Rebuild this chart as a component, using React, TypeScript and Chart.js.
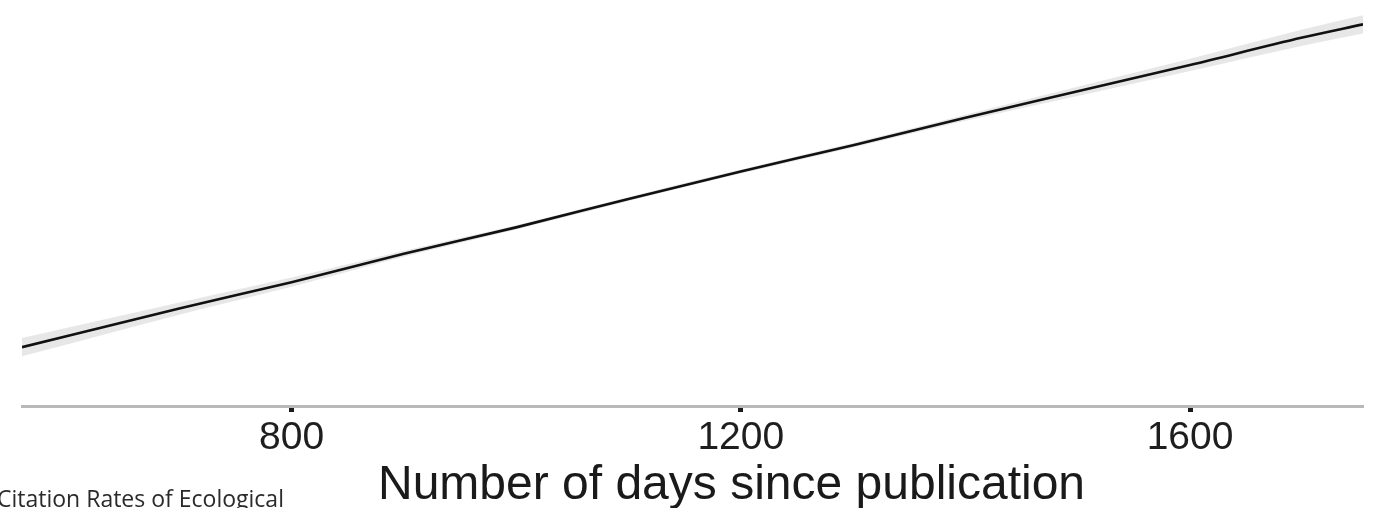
import React, { useEffect, useRef } from "react";
import { Chart, registerables } from "chart.js";

Chart.register(...registerables);

// ---- data ----
const DAYS = [560, 700, 800, 900, 1000, 1100, 1200, 1300, 1400, 1500, 1600, 1700, 1754];
const FIT = [5.8, 9.6, 12.2, 15.0, 17.6, 20.4, 23.1, 25.7, 28.4, 31.0, 33.6, 36.3, 37.6];
const UPPER = [6.7, 10.2, 12.65, 15.3, 17.82, 20.6, 23.3, 25.92, 28.7, 31.45, 34.2, 37.1, 38.5];
const LOWER = [4.9, 9.0, 11.75, 14.7, 17.38, 20.2, 22.9, 25.48, 28.1, 30.55, 33.0, 35.5, 36.7];
const X_TICKS = [800, 1200, 1600];
const X_MIN = 560;
const X_MAX = 1754;
const Y_MIN = 0;
const Y_MAX = 40;
const X_TITLE = "Number of days since publication";
const CAPTION = "Citation Rates of Ecological";

export default function App() {
  const ref = useRef<HTMLCanvasElement | null>(null);

  useEffect(() => {
    if (!ref.current) return;
    const pts = (arr: number[]) => DAYS.map((d, i) => ({ x: d, y: arr[i] }));
    const chart = new Chart(ref.current, {
      type: "line",
      data: {
        datasets: [
          {
            label: "fit",
            data: pts(FIT),
            borderColor: "#111111",
            borderWidth: 2.6,
            pointRadius: 0,
            cubicInterpolationMode: "monotone",
            fill: false,
          },
          {
            label: "lower",
            data: pts(LOWER),
            borderWidth: 0,
            borderColor: "rgba(0,0,0,0)",
            pointRadius: 0,
            cubicInterpolationMode: "monotone",
            fill: false,
          },
          {
            label: "upper",
            data: pts(UPPER),
            borderWidth: 0,
            borderColor: "rgba(0,0,0,0)",
            backgroundColor: "rgba(195,195,195,0.4)",
            pointRadius: 0,
            cubicInterpolationMode: "monotone",
            fill: "-1",
          },
        ],
      },
      options: {
        animation: false,
        responsive: false,
        maintainAspectRatio: false,
        layout: { padding: { left: 22, right: 21, top: 0, bottom: 0 } },
        plugins: { legend: { display: false }, tooltip: { enabled: false }, title: { display: false } },
        scales: {
          x: {
            type: "linear",
            min: X_MIN,
            max: X_MAX,
            afterBuildTicks: (s: any) => {
              s.ticks = X_TICKS.map((v) => ({ value: v }));
            },
            afterFit: (s: any) => {
              s.height = 102;
            },
            border: { display: true, color: "#b8b8b8", width: 3 },
            grid: {
              drawOnChartArea: false,
              drawTicks: true,
              tickLength: 6,
              tickWidth: 5,
              tickColor: "#1a1a1a",
            },
            ticks: {
              color: "#1e1e1e",
              padding: 3,
              maxRotation: 0,
              callback: (v: any) => String(v),
              font: { family: "'Liberation Sans', Arial, sans-serif", size: 39 },
            },
          },
          y: {
            display: false,
            min: Y_MIN,
            max: Y_MAX,
          },
        },
      },
    });
    return () => chart.destroy();
  }, []);

  return (
    <div
      style={{
        position: "fixed",
        left: 0,
        top: 0,
        width: 1384,
        height: 508,
        background: "#ffffff",
        overflow: "hidden",
      }}
    >
      <canvas ref={ref} width={1384} height={508} style={{ display: "block", width: 1384, height: 508 }} />
      <div
        style={{
          position: "absolute",
          left: 378,
          top: 459,
          fontFamily: "'Liberation Sans', Arial, sans-serif",
          fontSize: 48,
          lineHeight: "48px",
          color: "#1a1a1a",
          whiteSpace: "nowrap",
        }}
      >
        {X_TITLE}
      </div>
      <div
        style={{
          position: "absolute",
          left: -3,
          top: 487,
          fontFamily: "'Open Sans', sans-serif",
          fontSize: 23,
          lineHeight: "23px",
          color: "#2a2a2a",
          whiteSpace: "nowrap",
        }}
      >
        {CAPTION}
      </div>
    </div>
  );
}
